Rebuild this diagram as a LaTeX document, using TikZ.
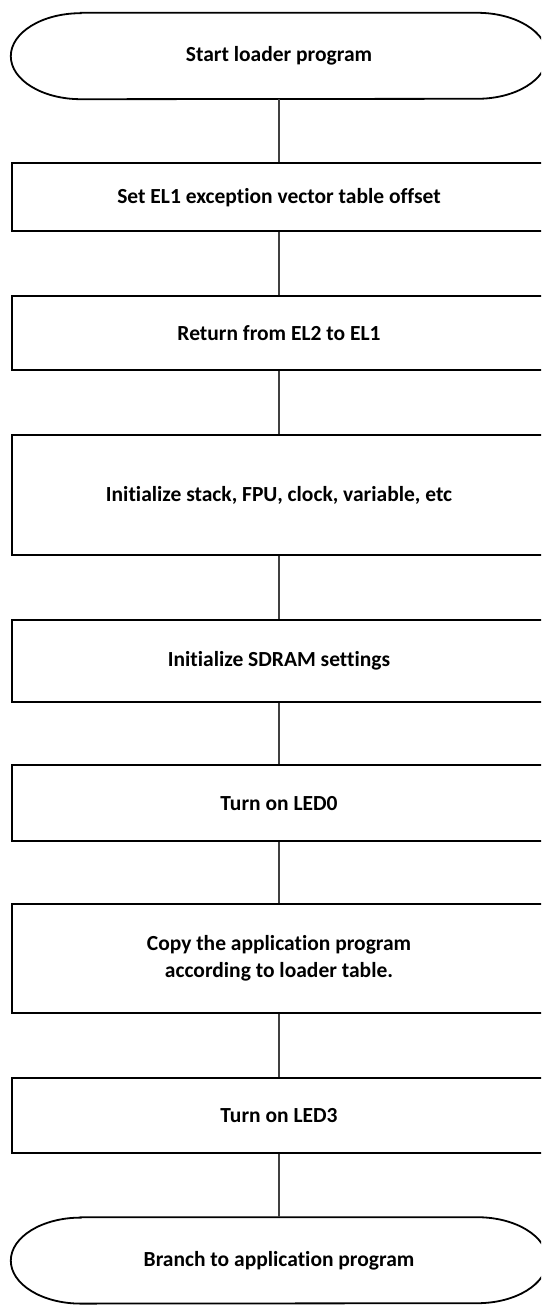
\documentclass[tikz,border=0pt]{standalone}
\usepackage{fontspec}
\setmainfont{Carlito}[Ligatures=NoCommon]
\usetikzlibrary{positioning}

\begin{document}
\begin{tikzpicture}[node distance={63pt}, font=\fontsize{21.5}{27}\selectfont\bfseries,
  stepbox/.style = {draw, line width=2pt, minimum width=535pt, align=center, inner sep=0pt},
  term/.style = {minimum width=536pt, minimum height=86pt, inner sep=0pt},
  link/.style = {draw=black!75, line width=1.2pt}]
\clip (0,0) rectangle (541pt,-1305pt);
\node[term] (start) at (279pt,-56pt) {Start loader program};
\node[stepbox, minimum height=68pt] (vbar) [below=of start] {Set EL1 exception vector table offset};
\node[stepbox, minimum height=74pt] (ret) [below=of vbar] {Return from EL2 to EL1};
\node[stepbox, minimum height=120pt] (initsys) [below=of ret] {Initialize stack, FPU, clock, variable, etc};
\node[stepbox, minimum height=82pt] (sdram) [below=of initsys] {Initialize SDRAM settings};
\node[stepbox, minimum height=76pt] (led0) [below=61pt of sdram] {Turn on LED0};
\node[stepbox, minimum height=109pt] (copy) [below=61pt of led0] {Copy the application program\\according to loader table.};
\node[stepbox, minimum height=75pt] (led3) [below=of copy] {Turn on LED3};
\node[term] (branch) [below=of led3] {Branch to application program};
% terminal outlines
\foreach \t in {start, branch}
  \draw[line width=1.8pt] ([xshift=70pt]\t.north west) -- ([xshift=-70pt]\t.north east)
    arc[start angle=90, end angle=-90, x radius=70pt, y radius=43pt]
    -- ([xshift=70pt]\t.south west)
    arc[start angle=270, end angle=90, x radius=70pt, y radius=43pt] -- cycle;
\draw[link] (start) -- (vbar);
\draw[link] (vbar) -- (ret);
\draw[link] (ret) -- (initsys);
\draw[link] (initsys) -- (sdram);
\draw[link] (sdram) -- (led0);
\draw[link] (led0) -- (copy);
\draw[link] (copy) -- (led3);
\draw[link] (led3) -- (branch);
\end{tikzpicture}
\end{document}
